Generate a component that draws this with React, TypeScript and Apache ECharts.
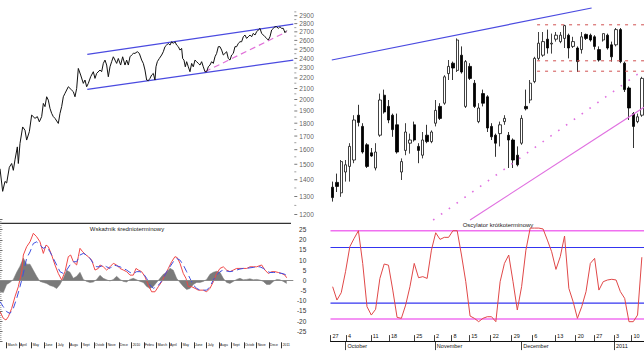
import { useEffect, useRef } from "react";
import * as echarts from "echarts";

// ---------- Left top: long-term price (log scale) ----------
const priceT = [0,8,15,20,28,35,40,45,52,55,60,68,75,80,88,95,105,112,118,125,130,135,140,145,150,155,160,165,175,180,185,190,195,205,215,220,225,230,235,242,250,255,260,265,272,280,285,290,300,305,310,315,320,325,330,335,340,345,350,355,362,368,375,380,385,390,395,400,405,412,418,425,430,435,440,445,450,455,460,465,468,472,478,485,490,495,500,505,510,515,520,525,530,535,540,545,548,552,556,560,565,570,575,580,585,590,595,600,605,610,615,620,625,630,635,640,645,650,655,660,665,670,675,680,685,690,695,700,705,710,715,720,725,730,735,740,745,750,755,760,765,770,775,780,785,790,795,800,805,810,815,820,825,830,835,840,845,850,855,860];
const priceV = [1470,1330,1390,1380,1480,1505,1460,1530,1620,1505,1645,1770,1745,1670,1733,1866,1839,1853,1811,1853,1965,1937,2024,1994,1922,1880,1853,1839,1798,1880,1937,2024,2055,2116,2085,2070,2024,2100,2295,2229,2148,2180,2116,2148,2212,2262,2196,2245,2279,2262,2347,2382,2330,2212,2312,2365,2417,2382,2347,2399,2330,2417,2330,2382,2330,2417,2436,2454,2454,2472,2454,2382,2347,2279,2180,2174,2196,2229,2245,2180,2312,2365,2399,2436,2472,2528,2546,2565,2546,2584,2565,2584,2546,2528,2490,2509,2399,2382,2312,2365,2312,2262,2347,2312,2382,2365,2347,2330,2365,2312,2262,2262,2312,2330,2365,2347,2417,2454,2528,2528,2490,2436,2454,2472,2399,2382,2436,2454,2528,2528,2565,2584,2584,2642,2662,2623,2642,2662,2642,2682,2662,2701,2722,2742,2682,2662,2642,2623,2603,2642,2722,2742,2762,2762,2742,2762,2742,2742,2690,2715];
const priceLabels = [1200,1300,1400,1500,1600,1700,1800,1900,2000,2100,2200,2300,2400,2500,2600,2700,2800,2900];
const priceMinor = [1250,1350,1450,1550,1650,1750,1850,1950,2050,2150,2250,2350,2450,2550,2650,2750,2850,2950];
const channelUpper = [[262, 2443], [880, 2795]];
const channelLower = [[262, 2091], [880, 2382]];
const supportPink = [[615, 2262], [860, 2701]];

// ---------- Left bottom: medium-term indicator ----------
const redT = [0,10,18,25,35,45,55,65,70,80,90,100,110,120,130,138,145,155,165,175,185,195,205,212,220,230,235,240,248,258,265,275,285,295,300,310,320,330,340,350,360,370,380,390,400,408,415,425,435,445,455,465,475,485,495,505,515,525,532,540,550,558,565,575,585,595,610,620,630,640,650,660,670,680,690,700,710,720,730,740,750,760,770,785,795,805,815,825,835,845,855,860];
const redV = [-15.4,-18.7,-19.5,-17.9,-13.8,-8,-3.1,4.3,12.5,16.6,19,23.2,21.5,19,13.3,17.4,16.6,12.5,7.6,3.4,0.2,4.3,11.7,12.5,9.2,7.6,11.7,15.8,14.1,12.5,11.7,10,5.1,5.9,7.6,6.7,5.1,6.7,8.4,7.6,5.9,5.1,4.3,2.6,2.6,5.9,5.1,4.3,1.8,-2.3,-5.6,-5.6,-3.1,-0.7,2.6,5.9,9.2,11.7,11.2,8.4,3.4,1,-3.1,-3.1,-3.9,-4.8,-4.8,-5.6,-3.9,-0.7,3.4,5.9,6.7,5.1,4.3,5.1,5.9,5.9,5.9,5.9,6.7,6.7,6.7,7.6,5.1,3.4,4.3,4.3,3.9,3.4,2.6,1.3];
const sampleT = [0,10,20,30,40,50,60,70,80,90,100,110,120,130,140,150,160,170,180,190,200,210,220,230,240,250,260,270,280,290,300,310,320,330,340,350,360,370,380,390,400,410,420,430,440,450,460,470,480,490,500,510,520,530,540,550,560,570,580,590,600,610,620,630,640,650,660,670,680,690,700,710,720,730,740,750,760,770,780,790,800,810,820,830,840,850,860];
const blueV = [-10.5,-13,-15.4,-16.3,-13.8,-8.9,-3.1,3.4,11,14,18.2,19,17.4,15.8,16.6,14.1,10.8,7.6,4.3,3.4,5.1,7.6,9.2,9.2,12.5,13.3,12.5,10.8,8.4,6.7,6.7,7.6,6.7,5.9,7.6,7.2,6.7,5.9,5.1,3.9,3.4,4.3,4.3,3.4,1,-2.3,-3.9,-3.1,-1.5,1,4.3,6.7,9.2,10.8,10,7.6,4.3,1,-2.3,-3.9,-4.8,-4.8,-4.8,-3.1,0.2,2.6,4.3,5.1,4.6,4.3,4.6,5.1,5.6,5.9,5.9,6.2,6.4,6.6,6.7,5.9,4.6,3.9,3.9,3.9,3.6,3.3,2.6];
const histV = [-5.5,-6,-2,-1,0.5,4,7,11,8,8,5,2,-0.5,-1,-1.5,-2.5,-3,-4,-2,1,5,4,1,2,4,0.5,-0.5,-1,-0.8,0.5,2.5,1,0.3,-0.3,0.5,2,0.5,-0.5,-0.8,0.5,1,0.3,-0.5,-1,-3,-4,-3,-1,1,3,4,6,5,1,-1,-3,-4.5,-4,-2,-1,-1,-0.5,0.5,3,4,4.5,4,1,-1,-1.5,-0.5,0.5,1,0.3,0.5,0.8,0.3,0.5,0.2,-0.5,-2,-2,-0.5,0.5,0.3,-0.5,-1.5];
const monthT = [20,57,95,132,170,207,245,282,320,357,395,432,470,507,545,582,620,657,695,732,770,807,845];
const monthNames = ["March","April","May","June","July","August","September","October","November","December","2010","February","March","April","May","June","July","August","September","October","November","December","2011"];

// ---------- Right top: daily candles [open, close, low, high] ----------
const candles = [
  [2586,2573,2568,2593],[2592,2587,2580,2603],[2579,2618,2574,2620],[2605,2614,2593,2620],[2612,2637,2593,2641],
  [2620,2670,2616,2676],[2676,2667,2662,2689],[2662,2630,2628,2666],[2639,2612,2610,2641],[2629,2625,2624,2635],
  [2610,2630,2607,2641],[2651,2695,2649,2703],[2701,2680,2678,2708],[2687,2670,2666,2695],[2676,2658,2649,2678],
  [2664,2630,2628,2678],[2605,2618,2595,2622],[2632,2655,2626,2666],[2641,2645,2628,2653],[2664,2645,2643,2668],
  [2637,2632,2616,2641],[2626,2645,2622,2655],[2651,2643,2641,2664],[2643,2655,2641,2657],[2666,2682,2662,2695],
  [2687,2672,2670,2691],[2691,2724,2689,2726],[2728,2737,2720,2745],[2741,2735,2720,2743],[2732,2770,2730,2772],
  [2751,2730,2728,2762],[2687,2743,2685,2745],[2737,2722,2720,2741],[2716,2687,2685,2720],[2668,2685,2666,2691],
  [2703,2691,2687,2708],[2699,2660,2655,2701],[2662,2649,2645,2666],[2651,2641,2624,2653],[2653,2664,2637,2668],
  [2668,2672,2664,2676],[2651,2645,2610,2655],[2645,2620,2610,2647],[2626,2614,2612,2637],[2641,2672,2639,2676],
  [2687,2684,2682,2708],[2695,2716,2691,2720],[2718,2747,2716,2749],[2747,2766,2745,2780],[2751,2768,2749,2780],
  [2771,2760,2753,2783],[2765,2766,2753,2778],[2771,2776,2768,2780],[2768,2776,2766,2780],[2772,2788,2760,2789],
  [2776,2760,2747,2778],[2762,2768,2760,2774],[2760,2743,2730,2762],[2758,2774,2753,2780],[2777,2772,2770,2778],
  [2776,2770,2768,2778],[2774,2762,2758,2776],[2758,2745,2743,2762],[2770,2778,2768,2778],[2776,2760,2758,2778],
  [2764,2749,2743,2768],[2764,2783,2762,2785],[2783,2743,2741,2785],[2741,2708,2705,2743],[2710,2685,2670,2712],
  [2678,2662,2635,2680],[2668,2674,2666,2678],[2676,2722,2674,2724],
];
const trendBlue = [[-0.2, 2745], [60.3, 2810]];
const trendPinkSolid = [[32.0, 2545], [72.5, 2686]];
const trendPinkDotted = [[23.4, 2545], [72.5, 2733]];
const redLevels = [2789, 2744, 2731];
const redLevelFrom = 47.6;

// ---------- Right bottom: short-term oscillator ----------
const oscV = [36.6,21.5,29.8,53.6,81.9,91.3,100,63,14,4.5,11,46,62.3,61,32.8,1.9,0.8,15.8,36.6,63,46.8,48,46,78,97.7,90.2,92.5,92.5,100,100,72.5,42.3,3.4,0.8,-3,0.8,2.6,2.6,-3,42.3,63,72.5,42.3,10.2,36.6,78,103,103,103,102,89.4,76.2,56.2,70.6,94,34.7,19.6,0.8,14,31,63,68.7,32.8,42.3,44.2,45,44.2,31,23.4,-3,-3,4.5,70];
const oscOuter = [100, 0];
const oscInner = [81, 18];
const weekPos = [-0.5,3.1,8.9,13.1,19.0,23.6,27.7,31.8,36.8,41.7,46.5,51.8,56.6,60.9,65.5,69.6];
const weekLabels = ["27","4","11","18","25","2","8","15","22","29","6","13","20","27","3","10"];
const oscMonthPos = [3.0,23.8,43.9,65.5];
const oscMonthLabels = ["October","November","December","2011"];

const FONT = "'Liberation Sans', Arial, sans-serif";

function pick(pos: number[], labels: string[]) {
  return (val: number) => {
    const i = pos.findIndex((p) => Math.abs(p - val) < 1e-6);
    return i >= 0 ? labels[i] : "";
  };
}

function levelSeries(v: number, color: string, width: number) {
  return {
    type: "line", xAxisIndex: 4, yAxisIndex: 3, data: [[-0.5, v], [72.5, v]], symbol: "none",
    color, lineStyle: { color, width, type: "solid" }, silent: true, z: 20, zlevel: 1,
  };
}

function buildOption(): any {
  const hiddenAxis = { show: false };
  return {
    animation: false,
    backgroundColor: "#ffffff",
    textStyle: { fontFamily: FONT },
    grid: [
      { left: 0, top: 11.9, width: 293.3, height: 202.6, outerBoundsMode: "none" },
      { left: 0, top: 219.5, width: 293.3, height: 121.8, outerBoundsMode: "none" },
      { left: 330.5, top: 0, right: 0, height: 224, outerBoundsMode: "none" },
      { left: 330.5, top: 221.9, right: 0, height: 119.2, outerBoundsMode: "none" },
    ],
    xAxis: [
      { gridIndex: 0, type: "value", min: 0, max: 880, ...hiddenAxis },
      {
        gridIndex: 1, type: "value", min: 0, max: 880, offset: 1,
        axisLine: { show: false, onZero: false }, splitLine: { show: false },
        axisTick: { show: true, customValues: monthT, length: 6, lineStyle: { color: "#000", width: 0.8 } },
        axisLabel: {
          customValues: monthT, formatter: pick(monthT, monthNames), fontSize: 3.4, color: "#111",
          align: "left", margin: 0.8, padding: [0, 0, 0, 1], width: 10.5, overflow: "truncate", ellipsis: "",
          hideOverlap: false, fontFamily: FONT,
        },
      },
      { gridIndex: 2, type: "category", data: candles.map((_, i) => String(i)), boundaryGap: true, ...hiddenAxis },
      { gridIndex: 2, type: "value", min: -0.5, max: 72.5, ...hiddenAxis },
      {
        gridIndex: 3, type: "value", min: -0.5, max: 72.5, position: "bottom",
        axisLine: { show: true, onZero: false, lineStyle: { color: "#111", width: 1 } }, splitLine: { show: false },
        axisTick: { show: true, inside: true, customValues: weekPos, length: 6, lineStyle: { color: "#111", width: 0.8 } },
        axisLabel: { inside: true, customValues: weekPos, formatter: pick(weekPos, weekLabels), fontSize: 5.5, color: "#111", align: "left", margin: 2, padding: [0, 0, 0, 2], fontFamily: FONT },
      },
      {
        gridIndex: 3, type: "value", min: -0.5, max: 72.5, position: "bottom",
        axisLine: { show: false, onZero: false }, splitLine: { show: false },
        axisTick: { show: true, customValues: oscMonthPos, length: 9, lineStyle: { color: "#111", width: 0.8 } },
        axisLabel: { customValues: oscMonthPos, formatter: pick(oscMonthPos, oscMonthLabels), fontSize: 5.5, color: "#111", align: "left", margin: 1.5, padding: [0, 0, 0, 2], fontFamily: FONT },
      },
    ],
    yAxis: [
      { gridIndex: 0, type: "log", logBase: 10, min: 1200, max: 2950, ...hiddenAxis },
      {
        gridIndex: 1, type: "value", min: -30, max: 30, interval: 5, position: "right",
        axisLine: { show: false }, splitLine: { show: false },
        axisTick: { show: true, length: 2.5, lineStyle: { color: "#444", width: 0.8 } },
        minorTick: { show: true, splitNumber: 5, length: 1.5, lineStyle: { color: "#777", width: 0.6 } },
        axisLabel: { formatter: (v: number) => (Math.abs(v) > 25 ? "" : String(v)), fontSize: 6.5, color: "#333", align: "right", margin: 13, fontFamily: FONT },
      },
      { gridIndex: 2, type: "value", min: 2540, max: 2820, ...hiddenAxis },
      { gridIndex: 3, type: "value", min: -25, max: 110, splitLine: { show: false }, ...hiddenAxis },
    ],
    graphic: [
      { type: "line", shape: { x1: 0, y1: 223.3, x2: 291, y2: 223.3 }, style: { stroke: "#333", lineWidth: 1.2 }, silent: true },
      { type: "text", x: 127, y: 229.3, style: { text: "Wskaźnik średnioterminowy", fontSize: 6, fill: "#222", align: "center", verticalAlign: "middle", fontFamily: FONT }, silent: true },
      { type: "text", x: 498, y: 224.5, style: { text: "Oscylator krótkoterminowy", fontSize: 6, fill: "#222", align: "center", verticalAlign: "middle", fontFamily: FONT }, silent: true },
    ],
    series: [
      // oscillator levels and line
      ...oscOuter.map((v) => levelSeries(v, "#f070f0", 1.6)),
      ...oscInner.map((v) => levelSeries(v, "#3434f0", 1.2)),
      {
        type: "line", xAxisIndex: 4, yAxisIndex: 3, data: oscV.map((v, i) => [i, v]), symbol: "none",
        lineStyle: { color: "#e04848", width: 1 }, silent: true, z: 21, zlevel: 1,
      },
      // price panel
      { type: "line", xAxisIndex: 0, yAxisIndex: 0, data: channelUpper, symbol: "none", lineStyle: { color: "#4a4ae0", width: 1.2 }, silent: true },
      { type: "line", xAxisIndex: 0, yAxisIndex: 0, data: channelLower, symbol: "none", lineStyle: { color: "#4a4ae0", width: 1.2 }, silent: true },
      { type: "line", xAxisIndex: 0, yAxisIndex: 0, data: supportPink, symbol: "none", lineStyle: { color: "#e070d8", width: 1.2, type: [6, 4] }, silent: true },
      { type: "line", xAxisIndex: 0, yAxisIndex: 0, data: priceT.map((t, i) => [t, priceV[i]]), symbol: "none", lineStyle: { color: "#111", width: 1 }, silent: true },
      {
        type: "scatter", xAxisIndex: 0, yAxisIndex: 0, clip: false, silent: true,
        data: priceLabels.map((v) => [880, v]), symbol: "rect", symbolSize: [3, 0.9], symbolOffset: [2.5, 0],
        itemStyle: { color: "#444" },
        label: { show: true, position: "right", distance: 2, formatter: (p: any) => String(p.value[1]), fontSize: 6.5, color: "#333", fontFamily: FONT },
      },
      {
        type: "scatter", xAxisIndex: 0, yAxisIndex: 0, clip: false, silent: true,
        data: priceMinor.map((v) => [880, v]), symbol: "rect", symbolSize: [2, 0.8], symbolOffset: [2, 0],
        itemStyle: { color: "#666" },
      },
      // indicator panel
      {
        type: "line", xAxisIndex: 1, yAxisIndex: 1, data: sampleT.map((t, i) => [t, histV[i]]), symbol: "none",
        lineStyle: { color: "#7a7a7a", width: 0.5 }, areaStyle: { color: "#7a7a7a", opacity: 1 }, silent: true,
        markLine: { silent: true, symbol: "none", label: { show: false }, data: [{ yAxis: 0 }], lineStyle: { color: "#8a8a8a", width: 1, type: "solid" } },
      },
      { type: "line", xAxisIndex: 1, yAxisIndex: 1, data: redT.map((t, i) => [t, redV[i]]), symbol: "none", lineStyle: { color: "#f04848", width: 1 }, silent: true },
      { type: "line", xAxisIndex: 1, yAxisIndex: 1, data: sampleT.map((t, i) => [t, blueV[i]]), symbol: "none", lineStyle: { color: "#3f4fe0", width: 1, type: [7, 4] }, silent: true },
      // candles
      {
        type: "candlestick", xAxisIndex: 2, yAxisIndex: 2, data: candles, barWidth: 2.8, silent: true,
        itemStyle: { color: "#ffffff", color0: "#000000", borderColor: "#111", borderColor0: "#000", borderWidth: 0.8 },
      },
      { type: "line", xAxisIndex: 3, yAxisIndex: 2, data: trendBlue, symbol: "none", lineStyle: { color: "#4a4ae0", width: 1.2 }, silent: true },
      { type: "line", xAxisIndex: 3, yAxisIndex: 2, data: trendPinkSolid, symbol: "none", lineStyle: { color: "#e070e0", width: 1.2 }, silent: true },
      { type: "line", xAxisIndex: 3, yAxisIndex: 2, data: trendPinkDotted, symbol: "none", lineStyle: { color: "#e070e0", width: 1.6, type: [1.6, 8] }, silent: true },
      ...redLevels.map((lv) => ({
        type: "line", xAxisIndex: 3, yAxisIndex: 2, data: [[redLevelFrom, lv], [72.5, lv]], symbol: "none",
        lineStyle: { color: "#d05050", width: 1, type: [3, 5] }, silent: true,
      })),
    ],
  };
}

export default function App() {
  const ref = useRef<HTMLDivElement>(null);
  useEffect(() => {
    if (!ref.current) return;
    const chart = echarts.init(ref.current, null, { renderer: "svg" });
    chart.setOption(buildOption());
    return () => chart.dispose();
  }, []);
  return (
    <div
      ref={ref}
      style={{ position: "fixed", left: 0, top: 0, width: 644, height: 363, background: "#fff" }}
    />
  );
}
